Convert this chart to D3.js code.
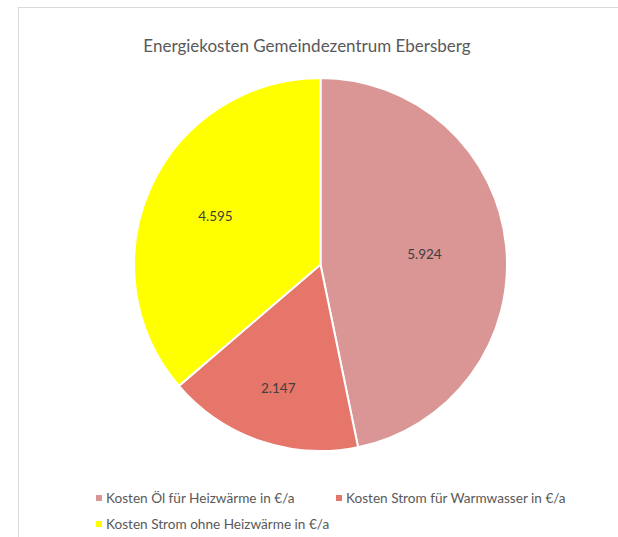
<!DOCTYPE html>
<html><head><meta charset="utf-8">
<script src="https://cdn.jsdelivr.net/npm/d3@7"></script>
<style>body{margin:0;background:#fff}</style>
</head><body>
<svg id="chart" width="618" height="537"></svg>
<script>
const title = "Energiekosten Gemeindezentrum Ebersberg";
const categories = ["Kosten Öl für Heizwärme in €/a", "Kosten Strom für Warmwasser in €/a", "Kosten Strom ohne Heizwärme in €/a"];
const values = [5924, 2147, 4595];
const valueLabels = ["5.924", "2.147", "4.595"];
const colors = ["#D99694", "#E6756A", "#FFFF00"];

const svg = d3.select("#chart");
const font = "Lato, 'Open Sans', sans-serif";

// chart border
svg.append("rect").attr("x", 18.5).attr("y", 7.5).attr("width", 640).attr("height", 600)
  .attr("fill", "#fff").attr("stroke", "#d9d9d9").attr("stroke-width", 1);

svg.append("text").attr("x", 307).attr("y", 52).attr("text-anchor", "middle")
  .attr("font-family", font).attr("font-size", 17).attr("fill", "#595959").text(title);

const cx = 320.5, cy = 264.5, R = 186.5;
const pie = d3.pie().sort(null).value(d => d)(values);
const arc = d3.arc().innerRadius(0).outerRadius(R);
const g = svg.append("g").attr("transform", `translate(${cx},${cy})`);
g.selectAll("path").data(pie).enter().append("path")
  .attr("d", arc).attr("fill", (d, i) => colors[i])
  .attr("stroke", "#fff").attr("stroke-width", 2);

const labelRadii = [0.56, 0.70, 0.62];
g.selectAll("text.lbl").data(pie).enter().append("text")
  .attr("class", "lbl")
  .attr("transform", (d, i) => {
    const a = d3.arc().innerRadius(R * labelRadii[i]).outerRadius(R * labelRadii[i]);
    return `translate(${a.centroid(d)})`;
  })
  .attr("text-anchor", "middle").attr("dy", "0.35em")
  .attr("font-family", font).attr("font-size", 13.5).attr("fill", "#404040")
  .text((d, i) => valueLabels[i]);

// legend
const legendPos = [[96, 503], [336, 503], [96, 529]];
const lg = svg.append("g");
categories.forEach((c, i) => {
  const [x, y] = legendPos[i];
  lg.append("rect").attr("x", x).attr("y", y - 8).attr("width", 6).attr("height", 6).attr("fill", colors[i]);
  lg.append("text").attr("x", x + 10).attr("y", y).attr("font-family", font)
    .attr("font-size", 13.6).attr("fill", "#595959").text(c);
});
</script>
</body></html>
